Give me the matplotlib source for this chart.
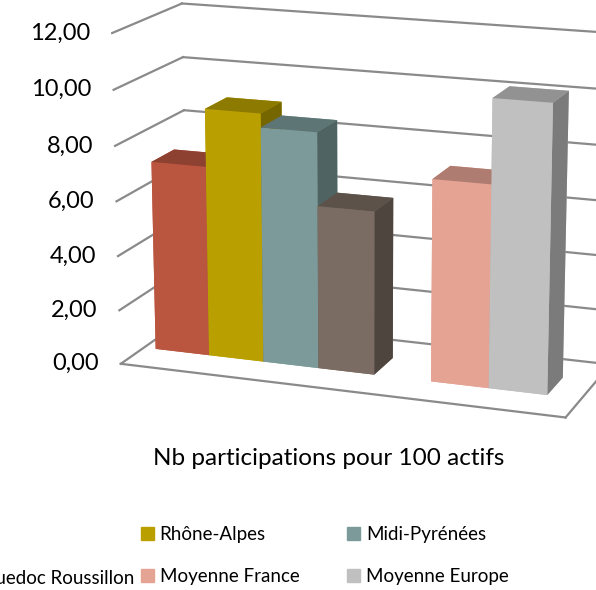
import matplotlib
matplotlib.use("Agg")
import matplotlib.pyplot as plt
from matplotlib.patches import Patch
from matplotlib.transforms import offset_copy
from mpl_toolkits.mplot3d import proj3d

# one category, one bar per series (slot 4 is left empty, as in the original)
series = ["Rhône-Alpes", "Midi-Pyrénées", "Languedoc Roussillon",
          "Moyenne France", "Moyenne Europe"]
values = [7.0, 9.1, 8.6, 5.95, 7.3, 10.3]
slots = [0, 1, 2, 3, 5, 6]
colors = ["#BA5640", "#B9A000", "#7B9A99", "#7A6C62", "#E5A394", "#C0C0C0"]
category = "Nb participations pour 100 actifs"
yticks = [0, 2, 4, 6, 8, 10, 12]
ytick_labels = ["0,00", "2,00", "4,00", "6,00", "8,00", "10,00", "12,00"]

plt.rcParams['font.family'] = ['Lato', 'DejaVu Sans']

fig = plt.figure(figsize=(5.96, 5.90), dpi=100)
ax = fig.add_axes([0.042, 0.227, 1.12, 0.84], projection='3d')
ax.set_proj_type('persp', focal_length=0.95)
ax.view_init(elev=15, azim=-70)

x0, x1 = -0.22, 7.57
d0, d1 = 0.0, 3.0
bar_y, bar_d = 1.0, 1.0

ax.set_xlim(x0, x1)
ax.set_ylim(d0, d1)
ax.set_zlim(0, 12)
ax.set_box_aspect((8.35, 3.0, 6.1), zoom=1.184)
ax.set_axis_off()

grid_c = "#8a8a8a"
for z in yticks:
    ax.plot([x0, x1], [d1, d1], [z, z], color=grid_c, lw=1.6)
    ax.plot([x0, x0], [d0, d1], [z, z], color=grid_c, lw=1.6)
ax.plot([x0, x1], [d0, d0], [0, 0], color=grid_c, lw=1.6)
ax.plot([x1, x1], [d0, d1], [0, 0], color=grid_c, lw=1.6)


def shade(c, f):
    r, g, b = matplotlib.colors.to_rgb(c)
    return (r * f, g * f, b * f)


face_cols = []
for c in colors:
    # bottom, top, front, back, left, right
    face_cols += [c, shade(c, 0.76), c, c, c, shade(c, 0.64)]

ax.bar3d(slots, [bar_y] * len(slots), [0] * len(slots),
         1.0, bar_d, values, color=face_cols, shade=False)

# value axis labels on the front edge of the left wall
M = ax.get_proj()
lab_tr = offset_copy(ax.transData, fig=fig, x=-22, y=0, units='dots')
for z, lab in zip(yticks, ytick_labels):
    px, py, _ = proj3d.proj_transform(x0, d0, z, M)
    ax.text2D(px, py, lab, transform=lab_tr, ha='right', va='center',
              fontsize=17, color='black')

fig.text(0.552, 0.223, category, ha='center', va='center', fontsize=17.5)

# legend in three columns; the first column is cut by the picture's left edge
handles = [Patch(color=c) for c in colors]
leg_kw = dict(frameon=False, fontsize=13.5, handlelength=0.7, handleheight=0.7,
              handletextpad=0.3, labelspacing=1.3)
fig.legend([handles[3]], [series[2]], loc='center right',
           bbox_to_anchor=(0.254, 0.0203), **leg_kw)
fig.legend([handles[1], handles[4]], [series[0], series[3]], loc='center left',
           bbox_to_anchor=(0.208, 0.0585), **leg_kw)
fig.legend([handles[2], handles[5]], [series[1], series[4]], loc='center left',
           bbox_to_anchor=(0.554, 0.0585), **leg_kw)

fig.savefig("out.png", dpi=100)
